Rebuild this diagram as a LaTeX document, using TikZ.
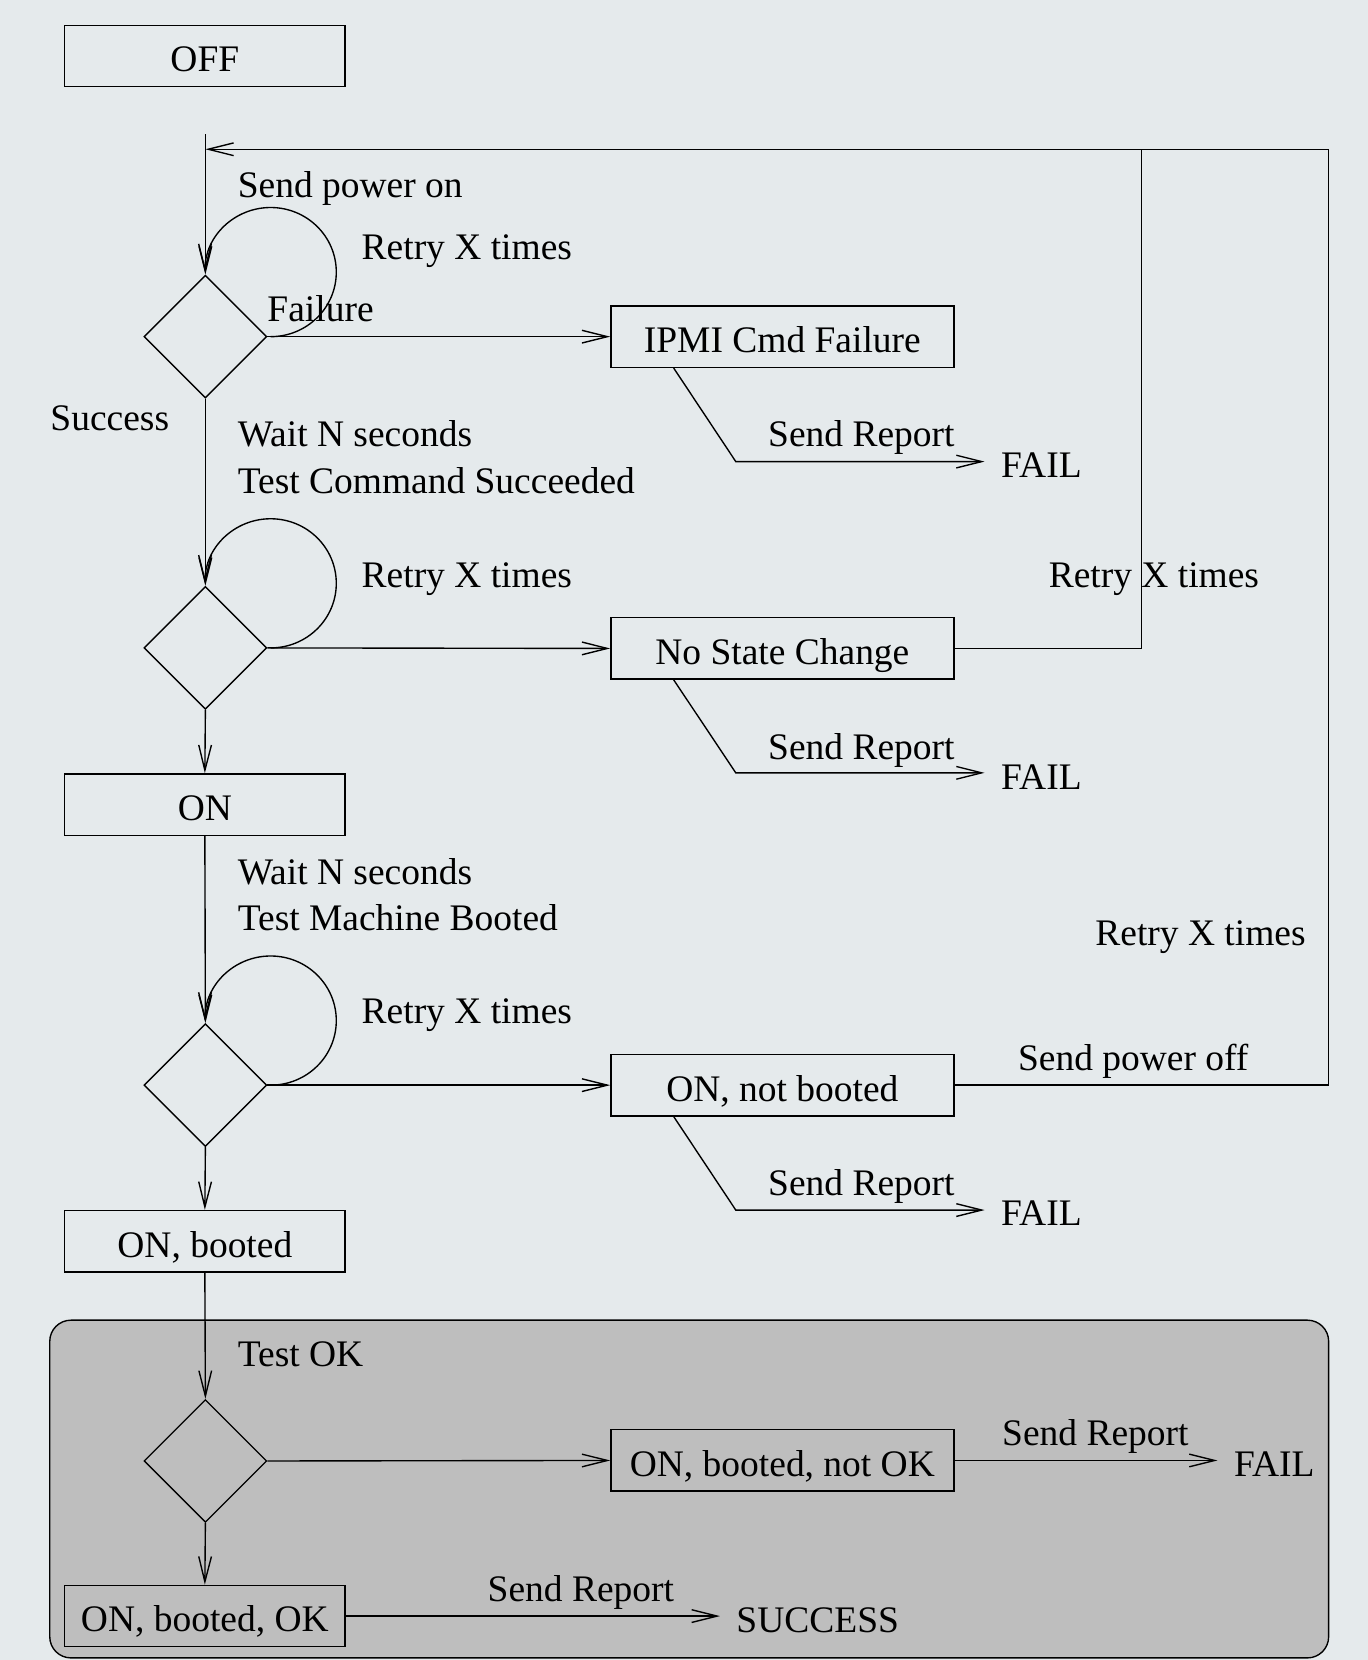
\documentclass[tikz,border=0pt]{standalone}
\usepackage{fontspec}
\setmainfont{Liberation Serif}
\usetikzlibrary{shapes.geometric,arrows.meta,calc}
\definecolor{bgc}{RGB}{229,234,236}
\definecolor{grpc}{RGB}{190,190,190}
\begin{document}
\begin{tikzpicture}[x=1pt,y=-1pt,line width=1.3pt,
  every node/.style={font=\fontsize{35.4}{42}\selectfont},
  bx/.style={draw,rectangle,minimum height=58pt,inner sep=0pt,text height=30pt,text depth=0pt},
  lbx/.style={bx,minimum width=265pt},
  rbx/.style={bx,minimum width=324pt},
  dia/.style={draw,diamond,aspect=1,minimum width=116pt,minimum height=116pt,inner sep=0pt},
  lbl/.style={inner sep=0pt,anchor=base west},
  endl/.style={inner ysep=0pt,inner xsep=15pt,anchor=base west},
  arr/.style={-{Straight Barb[length=24pt,width=12pt]}}]
\fill[bgc] (0,0) rectangle (1292,1568);
\useasboundingbox (0,0) rectangle (1292,1568);
\filldraw[fill=grpc,rounded corners=20pt] (47,1247) rectangle (1255,1566);

% left column
\node[lbx] (off) at (193.5,53) {OFF};
\coordinate (top) at (194,127);
\coordinate (entry) at (194,141);
\node[dia] (d1) at (194,318) {};
\node[dia] (d2) at (194,612) {};
\node[lbx] (on) at (193.5,760) {ON};
\node[dia] (d3) at (194,1025) {};
\node[lbx] (onb) at (193.5,1172.5) {ON, booted};
\node[dia] (d4) at (194,1380) {};
\node[lbx] (onbok) at (193.5,1526.5) {ON, booted, OK};

% right column
\node[rbx] (ipmi) at (739,318) {IPMI Cmd Failure};
\node[rbx] (nsc) at (739,612.5) {No State Change};
\node[rbx] (onnb) at (739,1025) {ON, not booted};
\node[rbx] (onbnok) at (739,1379.5) {ON, booted, not OK};

% end states
\node[endl] (f1) at (930,451) {FAIL};
\node[endl] (f2) at (930,746) {FAIL};
\node[endl] (f3) at (930,1158) {FAIL};
\node[endl] (f4) at (1150,1395) {FAIL};
\node[endl] (succ) at (680,1542) {SUCCESS};

% labels
\node[lbl] (lspo) at (224,187) {Send power on};
\node[lbl] (lr1) at (341,245) {Retry X times};
\node[lbl] (lfail) at (252,304) {Failure};
\node[lbl] (lsucc) at (47,407) {Success};
\node[lbl] (lw1) at (224,422) {Wait N seconds};
\node[lbl] (ltc) at (224,466) {Test Command Succeeded};
\node[lbl] (lr2) at (341,555) {Retry X times};
\node[lbl] (lrr1) at (990,555) {Retry X times};
\node[lbl] (lw2) at (224,835) {Wait N seconds};
\node[lbl] (ltm) at (224,879) {Test Machine Booted};
\node[lbl] (lrr2) at (1034,893) {Retry X times};
\node[lbl] (lr3) at (341,967) {Retry X times};
\node[lbl] (lspf) at (961,1011) {Send power off};
\node[lbl] (ltok) at (224,1291) {Test OK};
\node[lbl] (ls1) at (725,422) {Send Report};
\node[lbl] (ls2) at (725,717) {Send Report};
\node[lbl] (ls3) at (725,1129) {Send Report};
\node[lbl] (ls4) at (946,1365) {Send Report};
\node[lbl] (ls5) at (460,1513) {Send Report};

% main flow
\draw[arr] (top) -- (d1.north);
\draw[arr] (d1.south) -- (d2.north);
\draw[arr] (d2.south) -- (on.north);
\draw[arr] (on.south) -- (d3.north);
\draw[arr] (d3.south) -- (onb.north);
\draw[arr] (onb.south) -- (d4.north);
\draw[arr] (d4.south) -- (onbok.north);

% retry loops
\draw[arr] ($(d1.east)+(3,0)$) arc[start angle=90,end angle=-180,x radius=62,y radius=61];
\draw[arr] ($(d2.east)+(3,0)$) arc[start angle=90,end angle=-180,x radius=62,y radius=61];
\draw[arr] ($(d3.east)+(3,0)$) arc[start angle=90,end angle=-180,x radius=62,y radius=61];

% failures
\draw[arr] (d1.east) -- (ipmi.west);
\draw[arr] (d2.east) -- (nsc.west);
\draw[arr] (d3.east) -- (onnb.west);
\draw[arr] (d4.east) -- (onbnok.west);

\coordinate (r1) at (695,436);
\coordinate (r2) at (695,730);
\coordinate (r3) at (695,1143);
\draw[arr] ($(ipmi.south west)+(60,0)$) -- (r1) -- (r1 -| f1.west);
\draw[arr] ($(nsc.south west)+(60,0)$) -- (r2) -- (r2 -| f2.west);
\draw[arr] ($(onnb.south west)+(60,0)$) -- (r3) -- (r3 -| f3.west);
\draw[arr] (onbnok.east) -- (onbnok.east -| f4.west);
\draw[arr] (onbok.east) -- (onbok.east -| succ.west);

% retry returns
\coordinate (j1) at (1078,141);
\coordinate (c2) at (1255,141);
\coordinate (c3) at (1255,1025);
\draw (nsc.east) -| (j1);
\draw[arr] (onnb.east) -- (c3) -- (c2) -- (entry);
\end{tikzpicture}
\end{document}
